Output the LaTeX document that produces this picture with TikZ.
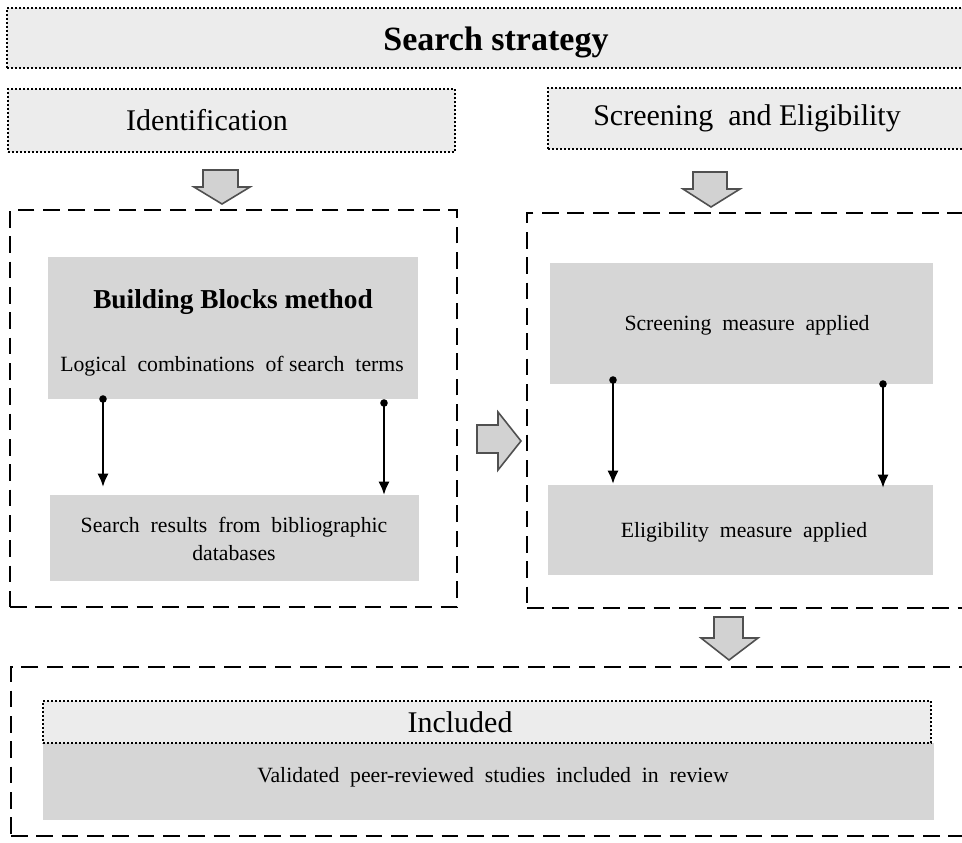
\documentclass[tikz,border=0pt]{standalone}
\usepackage{fontspec}
\setmainfont{Liberation Serif}
\usetikzlibrary{fit,arrows.meta}
\definecolor{lightbox}{HTML}{ECECEC}
\definecolor{graybox}{HTML}{D6D6D6}
\definecolor{arrowfill}{HTML}{D2D2D2}
\definecolor{arrowline}{HTML}{505050}
\begin{document}
\begin{tikzpicture}[x=0.75pt,y=-0.75pt,
  dotbox/.style={inner sep=0pt, fill=lightbox, draw=black, line width=1.6pt, dash pattern=on 1.3pt off 1.7pt},
  dashbox/.style={inner sep=0pt, draw=black, line width=2.2pt, dash pattern=on 12.5pt off 6.5pt},
  grbox/.style={inner sep=0pt, fill=graybox},
  bigtxt/.style={font=\fontsize{22.5pt}{27pt}\selectfont, inner sep=0pt},
  midtxt/.style={font=\fontsize{16.3pt}{21pt}\selectfont, inner sep=0pt, align=center},
  blockarrow/.style={fill=arrowfill, draw=arrowline, line width=1.2pt, line join=miter},
  conn/.style={line width=2.1pt, {Circle[length=5.5pt]}-{Latex[length=10pt,width=8.5pt]}, shorten <=-2.75pt}
]
\useasboundingbox (0,0) rectangle (962,842);

% dashed frames
\node[dashbox, fit={(10,210) (457,607)}] (left) {};
\node[dashbox, fit={(527,213) (966,608)}] (right) {};
\node[dashbox, fit={(11,667) (966,836)}] (bottom) {};

% header boxes
\node[dotbox, fit={(7,8) (966,68)}] (search) {};
\node[font=\fontsize{25.5pt}{30pt}\selectfont\bfseries, inner sep=0pt] (searcht) at (496,42) {Search strategy};
\node[dotbox, fit={(8,89) (455,152)}] (ident) {};
\node[bigtxt] (identt) at (207,120) {Identification};
\node[dotbox, fit={(548,88) (966,149)}] (screen) {};
\node[bigtxt] (screent) at (747,118) {Screening~~and Eligibility};

% left content
\node[grbox, fit={(48,257) (418,399)}] (bb) {};
\node[font=\fontsize{20.5pt}{25pt}\selectfont\bfseries, inner sep=0pt] (bbt) at (233,302) {Building Blocks method};
\node[midtxt] (bbs) at (232,366) {Logical~~combinations~~of search~~terms};
\node[grbox, fit={(50,495) (419,581)}] (sr) {};
\node[midtxt] (srt) at (234,539) {Search~~results~~from~~bibliographic\\databases};

% right content
\node[grbox, fit={(550,263) (933,384)}] (sm) {};
\node[midtxt] (smt) at (747,325) {Screening~~measure~~applied};
\node[grbox, fit={(548,485) (933,575)}] (em) {};
\node[midtxt] (emt) at (744,532) {Eligibility~~measure~~applied};

% bottom content
\node[grbox, fit={(43,743) (934,820)}] (val) {};
\node[midtxt] (valt) at (493,777) {Validated~~peer-reviewed~~studies~~included~~in~~review};
\node[dotbox, fit={(43,701) (931,743)}] (incl) {};
\node[bigtxt] (inclt) at (460,722) {Included};

% thin arrows
\coordinate (l1s) at (103,399); \coordinate (l1e) at (103,487);
\coordinate (l2s) at (384,403); \coordinate (l2e) at (384,495);
\coordinate (r1s) at (613,380); \coordinate (r1e) at (613,484);
\coordinate (r2s) at (883,384); \coordinate (r2e) at (883,488);
\draw[conn] (l1s) -- (l1e);
\draw[conn] (l2s) -- (l2e);
\draw[conn] (r1s) -- (r1e);
\draw[conn] (r2s) -- (r2e);

% block arrows
\draw[blockarrow] (203,170) -- (238,170) -- (238,187) -- (250,187) -- (222,204) -- (194,187) -- (203,187) -- cycle;
\draw[blockarrow] (693,172) -- (727,172) -- (727,189) -- (740,189) -- (711,207) -- (683,189) -- (693,189) -- cycle;
\draw[blockarrow] (714,617) -- (743,617) -- (743,638) -- (758,638) -- (729,660) -- (701,638) -- (714,638) -- cycle;
\draw[blockarrow] (477,425) -- (498,425) -- (498,412) -- (521,441) -- (498,470) -- (498,453) -- (477,453) -- cycle;
\end{tikzpicture}
\end{document}
